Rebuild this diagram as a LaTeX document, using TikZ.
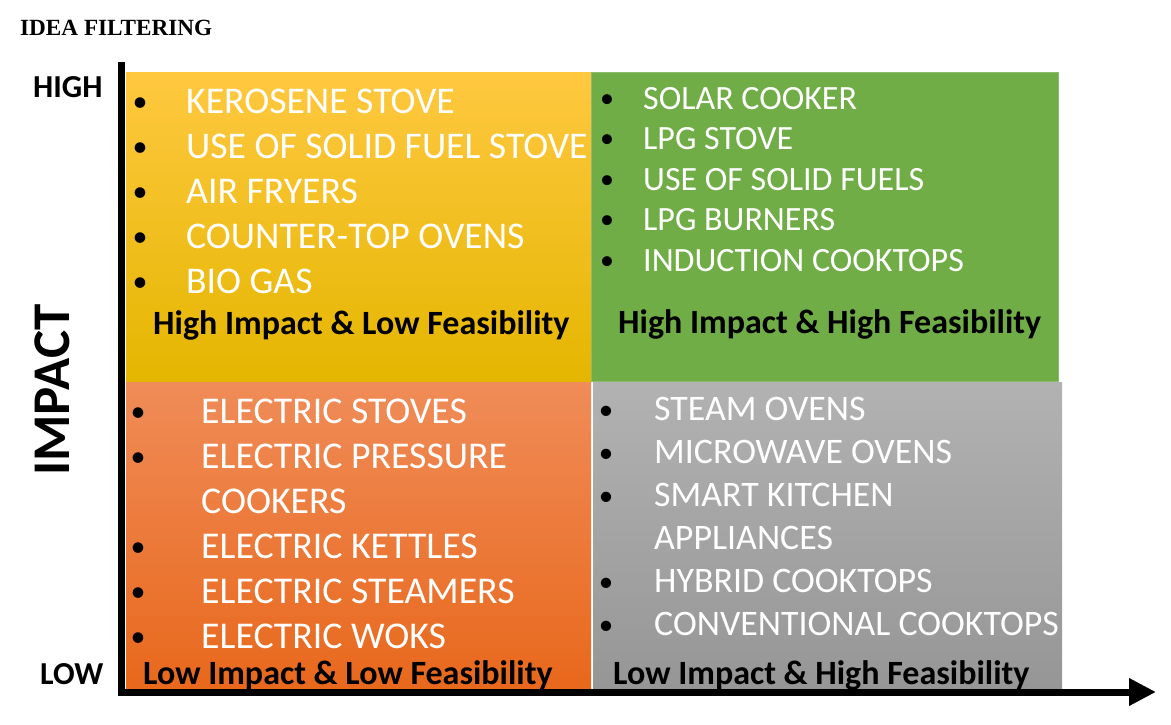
\documentclass[tikz,border=0pt]{standalone}
\usepackage{fontspec}
\setmainfont{Carlito}
\newfontfamily\titlefont{Liberation Serif}
\usetikzlibrary{arrows.meta}
\definecolor{ytop}{RGB}{255,200,64}
\definecolor{ybot}{RGB}{228,182,0}
\definecolor{qgreen}{RGB}{112,173,71}
\definecolor{otop}{RGB}{240,140,88}
\definecolor{obot}{RGB}{232,104,28}
\definecolor{gtop}{RGB}{178,178,178}
\definecolor{gbot}{RGB}{150,150,150}
\tikzset{
  quad/.style={draw=none},
  itemtxt/.style={anchor=base west, inner sep=0pt, text=white},
  bul/.style={anchor=base, inner sep=0pt, text=black},
  qlabel/.style={anchor=base west, inner sep=0pt, font=\fontsize{34}{40}\selectfont\bfseries},
  axlabel/.style={anchor=base west, inner sep=0pt, font=\fontsize{32}{38}\selectfont\bfseries},
  axis/.style={line width=7pt, line join=miter}
}
\begin{document}
\begin{tikzpicture}[x=1pt,y=-1pt]
\useasboundingbox (0,0) rectangle (1171,724);
% quadrants
\shade[top color=ytop, bottom color=ybot] (126,72) rectangle (591,382);
\fill[qgreen] (591,72) rectangle (1059,381);
\draw[qgreen!80!white, line width=1pt] (591.5,72.5) rectangle (1058.5,381);
\shade[top color=otop, bottom color=obot] (126,382) rectangle (591,689);
\shade[top color=gtop, bottom color=gbot] (593,382) rectangle (1062,688);
\node[quad, minimum width=465pt, minimum height=310pt, anchor=north west, inner sep=0pt] (QY) at (126,72) {};
\node[quad, minimum width=468pt, minimum height=309pt, anchor=north west, inner sep=0pt] (QG) at (591,72) {};
\node[quad, minimum width=465pt, minimum height=307pt, anchor=north west, inner sep=0pt] (QO) at (126,382) {};
\node[quad, minimum width=469pt, minimum height=306pt, anchor=north west, inner sep=0pt] (QR) at (593,382) {};
% title
\node[anchor=base west, inner sep=0pt, font=\titlefont\fontsize{23.2}{27}\selectfont\bfseries] (title) at (20,35) {IDEA FILTERING};
% axes labels
\node[axlabel] (high) at (33,97) {HIGH};
\node[axlabel] (low) at (40,684) {LOW};
\node[rotate=90, inner sep=0pt, font=\fontsize{53}{62}\selectfont\bfseries] (impact) at (52,390) {IMPACT};
% axes
\coordinate (axtop) at (121,62);
\coordinate (axorg) at (121,692);
\coordinate (axtip) at (1156,692);
\draw[axis, -{Triangle[length=27pt,width=26pt]}] (axtop) -- (axorg) -- (axtip);
% yellow items
\foreach \t [count=\i] in {KEROSENE STOVE, USE OF SOLID FUEL STOVE, AIR FRYERS, COUNTER-TOP OVENS, BIO GAS}{
  \node[bul, font=\fontsize{30}{36}\selectfont] (yb\i) at (140,{101+45*(\i-1)+10}) {•};
  \node[itemtxt, font=\fontsize{37.7}{44}\selectfont] (yt\i) at (186,{101+45*(\i-1)+12}) {\t};
}
\node[qlabel] (ylab) at (153,334) {High Impact \& Low Feasibility};
% green items
\foreach \t [count=\i] in {SOLAR COOKER, LPG STOVE, USE OF SOLID FUELS, LPG BURNERS, INDUCTION COOKTOPS}{
  \node[bul, font=\fontsize{28}{34}\selectfont] (gb\i) at (607,{98+40.5*(\i-1)+9}) {•};
  \node[itemtxt, font=\fontsize{34}{40}\selectfont] (gt\i) at (643,{98+40.5*(\i-1)+11}) {\t};
}
\node[qlabel] (glab) at (618,333) {High Impact \& High Feasibility};
% orange items
\foreach \t/\b [count=\i] in {ELECTRIC STOVES/1, ELECTRIC PRESSURE/1, COOKERS/0, ELECTRIC KETTLES/1, ELECTRIC STEAMERS/1, ELECTRIC WOKS/1}{
  \ifnum\b=1
  \node[bul, font=\fontsize{30}{36}\selectfont] (ob\i) at (138,{411+45*(\i-1)+10}) {•};
  \fi
  \node[itemtxt, font=\fontsize{37.8}{44}\selectfont] (ot\i) at (201,{411+45*(\i-1)+12}) {\t};
}
\node[qlabel] (olab) at (143,684) {Low Impact \& Low Feasibility};
% gray items
\foreach \t/\b [count=\i] in {STEAM OVENS/1, MICROWAVE OVENS/1, SMART KITCHEN/1, APPLIANCES/0, HYBRID COOKTOPS/1, CONVENTIONAL COOKTOPS/1}{
  \ifnum\b=1
  \node[bul, font=\fontsize{29}{34}\selectfont] (rb\i) at (606,{409+43*(\i-1)+10}) {•};
  \fi
  \node[itemtxt, font=\fontsize{35.9}{42}\selectfont] (rt\i) at (654,{409+43*(\i-1)+11.5}) {\t};
}
\node[qlabel] (rlab) at (613,684) {Low Impact \& High Feasibility};
\end{tikzpicture}
\end{document}
